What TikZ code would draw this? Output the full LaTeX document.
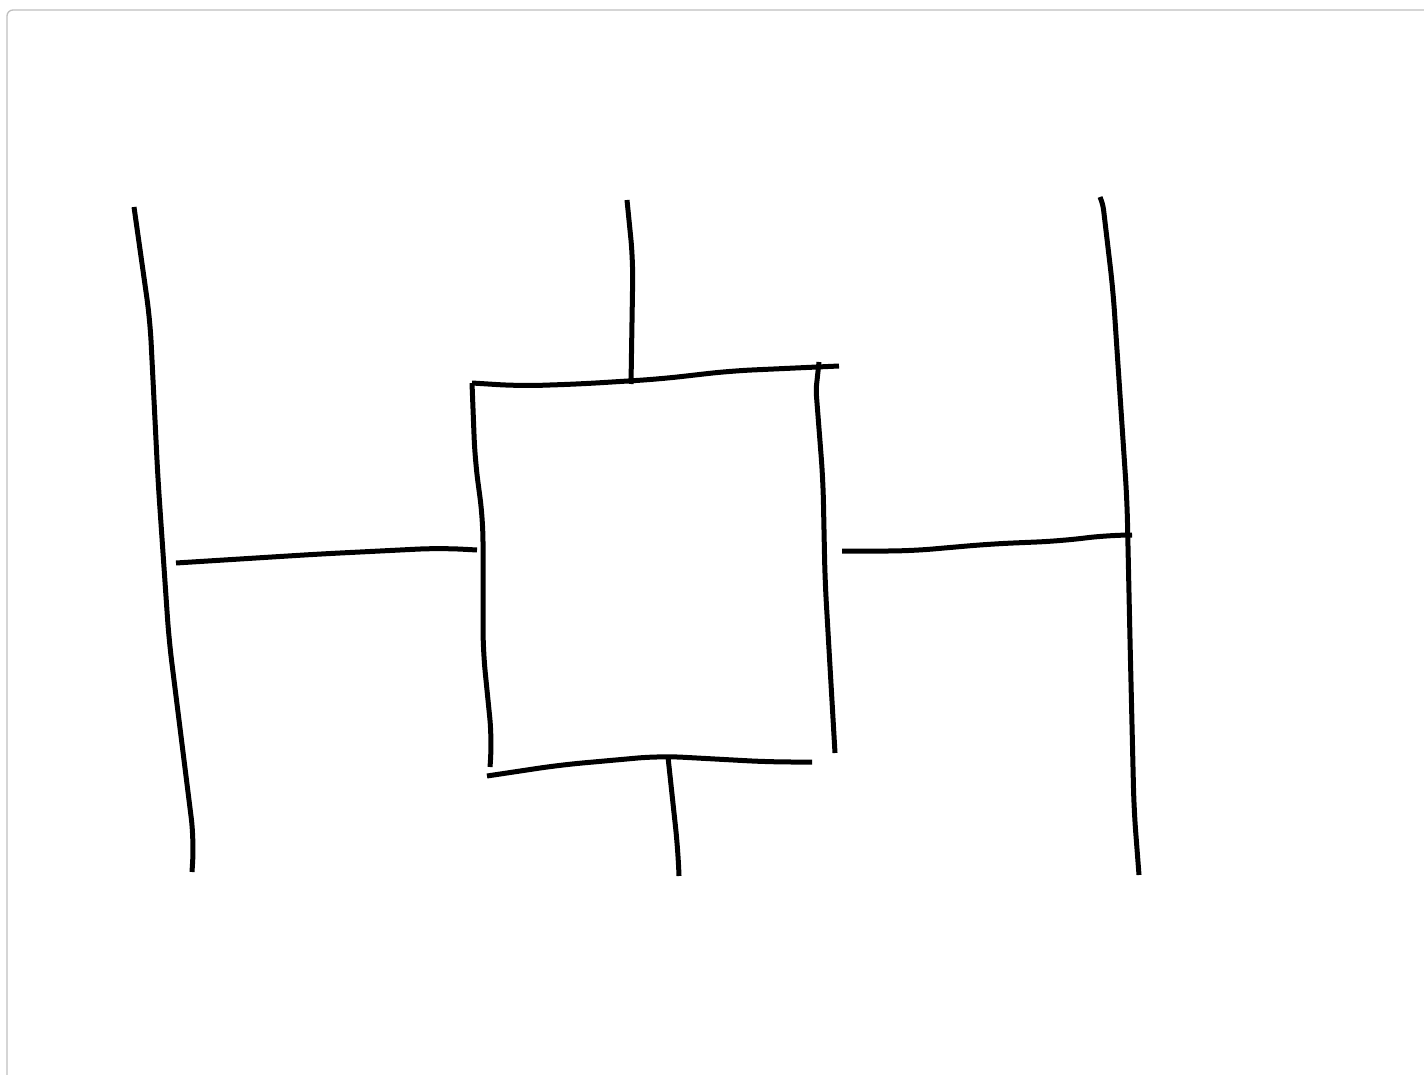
\documentclass[tikz,border=0pt]{standalone}
\tikzset{ink/.style={draw=black,line width=5pt,line cap=butt,line join=round,rounded corners=22pt},
tight/.style={rounded corners=5pt},
frame/.style={draw=black!25,line width=1.3pt,rounded corners=6pt}}
\begin{document}
\begin{tikzpicture}[x=1pt,y=-1pt]
\useasboundingbox (0,0) rectangle (1424,1075);
\fill[white] (0,0) rectangle (1424,1075);
\draw[frame] (1424,10) -- (7,10) -- (7,1075);
% left rail
\draw[ink] (134,207) -- (150,320) -- (158,480) -- (169,640) -- (194,840) [tight] -- (192,872);
% centre top stub
\draw[ink] (627,200) -- (633,260) -- (631,384);
% right rail
\draw[ink] (1100,197) [tight] -- (1103,205) [rounded corners=22pt] -- (1113,290) -- (1127,500) -- (1130,640) -- (1134,810) -- (1139,875);
% box
\draw[ink] (472,383) -- (520,386) -- (580,384) -- (660,379) -- (730,371) -- (839,366);
\draw[ink] (472,383) -- (475,460) -- (483,520) -- (483,650) -- (492,740) [tight] -- (490,767);
\draw[ink] (819,362) [tight] -- (816,390) [rounded corners=22pt] -- (823,480) -- (825,580) -- (835,753);
\draw[ink] (487,776) -- (560,765) -- (660,756) -- (770,762) -- (812,762);
% centre bottom stub
\draw[ink] (668,757) -- (678,850) [tight] -- (679,876);
% horizontal links
\draw[ink] (176,563) -- (320,554) -- (440,548) [tight] -- (477,550);
\draw[ink] (842,551) -- (910,551) -- (990,544) -- (1060,541) -- (1110,535) [tight] -- (1132,535);
\end{tikzpicture}
\end{document}
